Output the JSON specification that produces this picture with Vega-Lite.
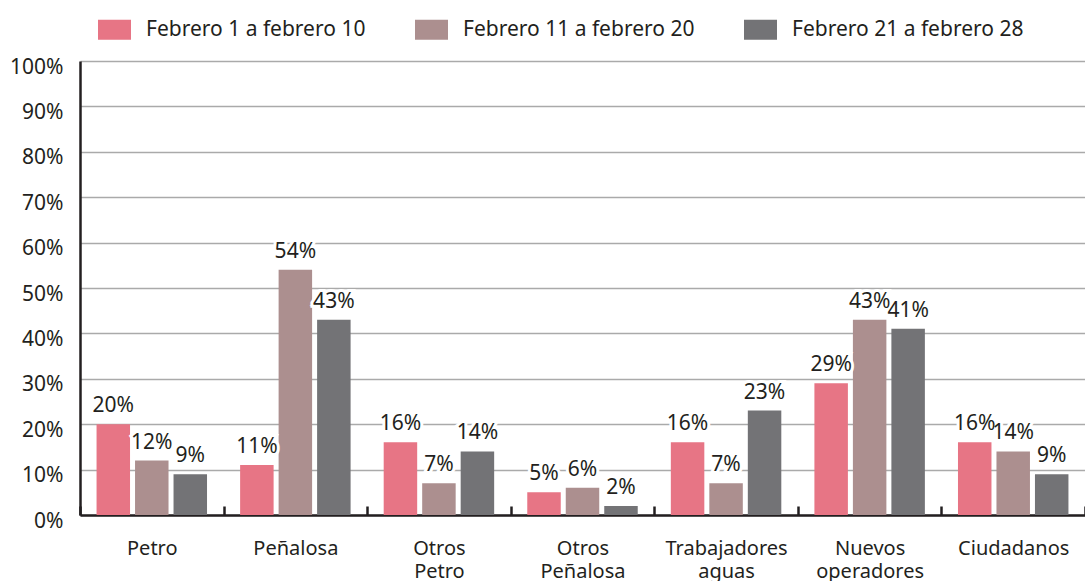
{
  "$schema": "https://vega.github.io/schema/vega-lite/v6.json",
  "width": 1005,
  "height": 454,
  "autosize": {"type": "none"},
  "padding": {"left": 80, "top": 61, "right": 0, "bottom": 66},
  "background": "white",
  "config": {
    "font": "Noto Sans",
    "view": {"stroke": null},
    "axis": {"labelColor": "#231f20", "labelFontSize": 21, "title": null}
  },
  "data": {
    "values": [
      {"cat": "Petro", "serie": "Febrero 1 a febrero 10", "v": 0.20},
      {"cat": "Petro", "serie": "Febrero 11 a febrero 20", "v": 0.12},
      {"cat": "Petro", "serie": "Febrero 21 a febrero 28", "v": 0.09},
      {"cat": "Peñalosa", "serie": "Febrero 1 a febrero 10", "v": 0.11},
      {"cat": "Peñalosa", "serie": "Febrero 11 a febrero 20", "v": 0.54},
      {"cat": "Peñalosa", "serie": "Febrero 21 a febrero 28", "v": 0.43},
      {"cat": "Otros Petro", "serie": "Febrero 1 a febrero 10", "v": 0.16},
      {"cat": "Otros Petro", "serie": "Febrero 11 a febrero 20", "v": 0.07},
      {"cat": "Otros Petro", "serie": "Febrero 21 a febrero 28", "v": 0.14},
      {"cat": "Otros Peñalosa", "serie": "Febrero 1 a febrero 10", "v": 0.05},
      {"cat": "Otros Peñalosa", "serie": "Febrero 11 a febrero 20", "v": 0.06},
      {"cat": "Otros Peñalosa", "serie": "Febrero 21 a febrero 28", "v": 0.02},
      {"cat": "Trabajadores aguas", "serie": "Febrero 1 a febrero 10", "v": 0.16},
      {"cat": "Trabajadores aguas", "serie": "Febrero 11 a febrero 20", "v": 0.07},
      {"cat": "Trabajadores aguas", "serie": "Febrero 21 a febrero 28", "v": 0.23},
      {"cat": "Nuevos operadores", "serie": "Febrero 1 a febrero 10", "v": 0.29},
      {"cat": "Nuevos operadores", "serie": "Febrero 11 a febrero 20", "v": 0.43},
      {"cat": "Nuevos operadores", "serie": "Febrero 21 a febrero 28", "v": 0.41},
      {"cat": "Ciudadanos", "serie": "Febrero 1 a febrero 10", "v": 0.16},
      {"cat": "Ciudadanos", "serie": "Febrero 11 a febrero 20", "v": 0.14},
      {"cat": "Ciudadanos", "serie": "Febrero 21 a febrero 28", "v": 0.09}
    ]
  },
  "encoding": {
    "x": {
      "field": "cat", "type": "nominal", "sort": null,
      "scale": {"paddingInner": 0, "paddingOuter": 0},
      "axis": {
        "labelAngle": 0, "labelExpr": "split(datum.label, ' ')", "labelLineHeight": 23,
        "labelFontSize": 20,
        "labelPadding": 32, "labelBaseline": "top",
        "domainColor": "#231f20", "domainWidth": 2.5,
        "ticks": true, "tickBand": "extent", "tickSize": -9, "tickWidth": 2.5, "tickColor": "#231f20",
        "grid": false
      }
    },
    "xOffset": {
      "field": "serie", "type": "nominal", "sort": null,
      "scale": {"paddingInner": 0.13, "paddingOuter": 0.43}
    },
    "y": {
      "field": "v", "type": "quantitative",
      "scale": {"domain": [0, 1], "nice": false},
      "axis": {
        "format": ".0%", "values": [0, 0.1, 0.2, 0.3, 0.4, 0.5, 0.6, 0.7, 0.8, 0.9, 1],
        "grid": true, "gridColor": "#aaaaaa", "gridWidth": 1.5,
        "domainColor": "#231f20", "domainWidth": 2.5,
        "ticks": false, "labelPadding": 17, "labelOffset": 6
      }
    }
  },
  "layer": [
    {
      "mark": {"type": "bar"},
      "encoding": {
        "color": {
          "field": "serie", "type": "nominal", "sort": null,
          "scale": {"range": ["#e77585", "#ac8f8f", "#737376"]},
          "legend": {
            "title": null, "orient": "none", "legendX": 18, "legendY": -48,
            "direction": "horizontal",
            "symbolType": "M-1,-0.6H1V0.6H-1Z", "symbolSize": 1089, "symbolStrokeWidth": 0,
            "labelFontSize": 21, "labelColor": "#231f20", "labelOffset": 15, "labelLimit": 400,
            "columnPadding": 49
          }
        }
      }
    },
    {
      "mark": {"type": "text", "baseline": "bottom", "dy": -8, "fontSize": 21, "stroke": "white", "strokeWidth": 6, "fill": "white"},
      "encoding": {"text": {"field": "v", "type": "quantitative", "format": ".0%"}}
    },
    {
      "mark": {"type": "text", "baseline": "bottom", "dy": -8, "fontSize": 21, "fill": "#231f20"},
      "encoding": {"text": {"field": "v", "type": "quantitative", "format": ".0%"}}
    }
  ]
}
